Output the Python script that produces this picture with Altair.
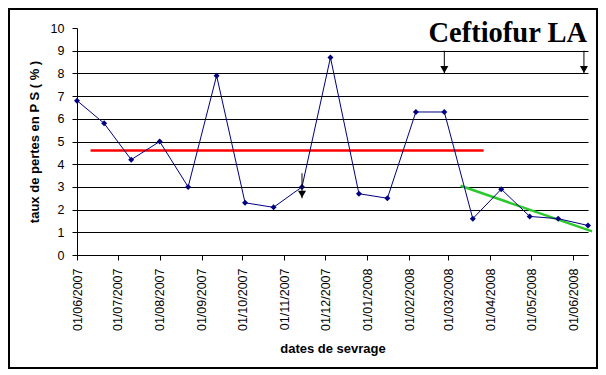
import altair as alt
import pandas as pd

# ---- data ----
dates = ["2007-06-01", "2007-06-21", "2007-07-11", "2007-08-01", "2007-08-22",
         "2007-09-12", "2007-10-03", "2007-10-24", "2007-11-14", "2007-12-05",
         "2007-12-26", "2008-01-16", "2008-02-06", "2008-02-27", "2008-03-19",
         "2008-04-09", "2008-04-30", "2008-05-21", "2008-06-12"]
loss = [6.8, 5.8, 4.2, 5.0, 3.0, 7.9, 2.3, 2.1, 3.0, 8.7,
        2.7, 2.5, 6.3, 6.3, 1.6, 2.9, 1.7, 1.6, 1.3]

mean_start = ["2007-06-11"]
mean_end = ["2008-03-27"]
mean_value = [4.6]

trend_dates = ["2008-03-10", "2008-06-15"]
trend_values = [3.05, 1.04]

arrow_dates = ["2007-11-14", "2008-02-27", "2008-06-09"]
arrow_top = [3.6, 9.0, 9.0]
arrow_bottom = [2.5, 8.0, 8.0]

title_text = ["Ceftiofur LA"]
x_title = "dates de sevrage"
y_title = "taux de pertes en P S ( % )"
y_ticks = [0, 1, 2, 3, 4, 5, 6, 7, 8, 9, 10]

FONT = "Liberation Sans"
W, H = 511, 227


def x_enc(field="date"):
    return alt.X(
        f"{field}:T",
        scale=alt.Scale(type="utc", nice=False,
                        domain=[alt.DateTime(year=2007, month=6, date=1, utc=True),
                                alt.DateTime(year=2008, month=6, date=12, utc=True)]),
        axis=alt.Axis(title=x_title, format="%d/%m/%Y",
                      tickCount=alt.TimeIntervalStep(interval="month", step=1),
                      labelAngle=270, labelFont=FONT, labelFontSize=12.5,
                      labelColor="black", labelPadding=8, labelOverlap=False,
                      labelFlush=False, labelBound=False,
                      tickSize=5, tickColor="black", domainColor="black",
                      grid=False, titleFont=FONT, titleFontSize=13,
                      titleFontWeight="bold", titleColor="black", titlePadding=12),
    )


def y_enc(field="value"):
    return alt.Y(
        f"{field}:Q",
        scale=alt.Scale(domain=[0, 10], nice=False, zero=True),
        axis=alt.Axis(title=y_title, values=y_ticks, format="d",
                      labelFont=FONT, labelFontSize=12.5, labelColor="black",
                      labelPadding=8, tickSize=5, tickColor="black",
                      domainColor="black",
                      grid=True,
                      gridColor={"condition": {"test": "datum.value >= 10", "value": "transparent"},
                                 "value": "black"},
                      gridWidth=1,
                      titleFont=FONT, titleFontSize=13, titleFontWeight="bold",
                      titleColor="black", titlePadding=9),
    )


df = pd.DataFrame({"date": dates, "value": loss})
mean_df = pd.DataFrame({"date": mean_start, "date2": mean_end, "value": mean_value})
trend_df = pd.DataFrame({"date": trend_dates, "value": trend_values})
arrow_df = pd.DataFrame({"date": arrow_dates, "value": arrow_top, "bottom": arrow_bottom})
title_df = pd.DataFrame({"t": title_text})
frame_df = pd.DataFrame({"k": [0]})

line = alt.Chart(df).mark_line(color="#000080", strokeWidth=1).encode(x=x_enc(), y=y_enc())
points = alt.Chart(df).mark_point(shape="diamond", filled=True, color="#000080",
                                  size=36, opacity=1).encode(x=x_enc(), y=y_enc())

mean_line = alt.Chart(mean_df).mark_rule(color="#ff0000", strokeWidth=2.5).encode(
    x=x_enc(), x2="date2:T", y=y_enc())

trend = alt.Chart(trend_df).mark_line(color="#2bc92b", strokeWidth=2.5).encode(
    x=x_enc(), y=y_enc())

arrow_shaft = alt.Chart(arrow_df).mark_rule(color="black", strokeWidth=1).encode(
    x=x_enc(), y=y_enc(), y2="bottom:Q")
arrow_head = alt.Chart(arrow_df).mark_point(shape="triangle-down", filled=True,
                                            color="black", size=65, opacity=1,
                                            yOffset=-4).encode(
    x=x_enc(), y=y_enc("bottom"))

title = alt.Chart(title_df).mark_text(font="Liberation Serif", fontWeight="bold",
                                      fontSize=28.5, align="right",
                                      baseline="alphabetic", color="black").encode(
    x=alt.value(W - 1), y=alt.value(14), text="t:N")

frame = alt.Chart(frame_df).mark_rect(fill=None, stroke="black", strokeWidth=2).encode(
    x=alt.value(-68), x2=alt.value(520), y=alt.value(-19), y2=alt.value(340))

chart = alt.layer(frame, mean_line, trend, line, points, arrow_shaft, arrow_head, title).properties(
    width=W, height=H,
    autosize=alt.AutoSizeParams(type="none"),
    padding={"left": 69, "top": 20, "right": 10, "bottom": 114},
    background="white",
).configure_view(stroke=None)

chart.save("out.html", embed_options={"renderer": "svg", "actions": False})
